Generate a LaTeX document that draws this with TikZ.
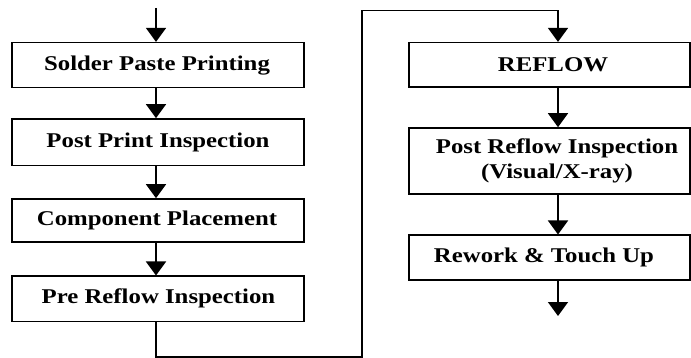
\documentclass[tikz,border=0pt]{standalone}
\usepackage{fontspec}
\setmainfont{Liberation Serif}
\newfontfamily\boxfont[FakeStretch=1.18]{Liberation Serif}
\usetikzlibrary{arrows.meta}
\begin{document}
\begin{tikzpicture}[x=1pt,y=-1pt,
  stepbox/.style={draw, line width=1.6pt, inner sep=0pt},
  lbl/.style={font=\boxfont\bfseries\fontsize{21}{25}\selectfont, inner sep=0pt, align=center},
  flow/.style={line width=1.6pt, -{Triangle[width=20pt,length=14pt]}},
  wire/.style={line width=1.6pt}]
\useasboundingbox (0,0) rectangle (691,358);
% left column boxes
\node[stepbox, minimum width=292pt, minimum height=45pt] (b1) at (158,65.2) {};
\node[stepbox, minimum width=292pt, minimum height=46.7pt] (b2) at (158,142.3) {};
\node[stepbox, minimum width=292pt, minimum height=43pt] (b3) at (158,220.5) {};
\node[stepbox, minimum width=292pt, minimum height=45pt] (b4) at (158,298.8) {};
% right column boxes
\node[stepbox, minimum width=281pt, minimum height=44.6pt] (r1) at (549.5,65) {};
\node[stepbox, minimum width=281pt, minimum height=66pt] (r2) at (549.5,161) {};
\node[stepbox, minimum width=281pt, minimum height=45pt] (r3) at (549.5,257.8) {};
% labels
\node[lbl] (t1) at (157,65.2) {Solder Paste Printing};
\node[lbl] (t2) at (158,142.3) {Post Print Inspection};
\node[lbl] (t3) at (157,220.5) {Component Placement};
\node[lbl] (t4) at (158.5,298.8) {Pre Reflow Inspection};
\node[lbl] (u1) at (553,65) {REFLOW};
\node[lbl] (u2) at (557,161) {Post Reflow Inspection\\(Visual/X-ray)};
\node[lbl] (u3) at (544,257.8) {Rework \& Touch Up};
% connector coordinates
\coordinate (start) at (156,8);
\coordinate (rx) at (558,10.7);
\coordinate (c1) at (362,357);
\coordinate (c2) at (362,10.7);
\coordinate (finish) at (558,316);
% connectors
\draw[flow] (start) -- (start |- b1.north);
\draw[flow] (b1.south -| start) -- (b2.north -| start);
\draw[flow] (b2.south -| start) -- (b3.north -| start);
\draw[flow] (b3.south -| start) -- (b4.north -| start);
\draw[flow] (b4.south -| start) |- (c1) -- (c2) -| (r1.north -| rx);
\draw[flow] (r1.south -| rx) -- (r2.north -| rx);
\draw[flow] (r2.south -| rx) -- (r3.north -| rx);
\draw[flow] (r3.south -| rx) -- (finish);
\end{tikzpicture}
\end{document}
